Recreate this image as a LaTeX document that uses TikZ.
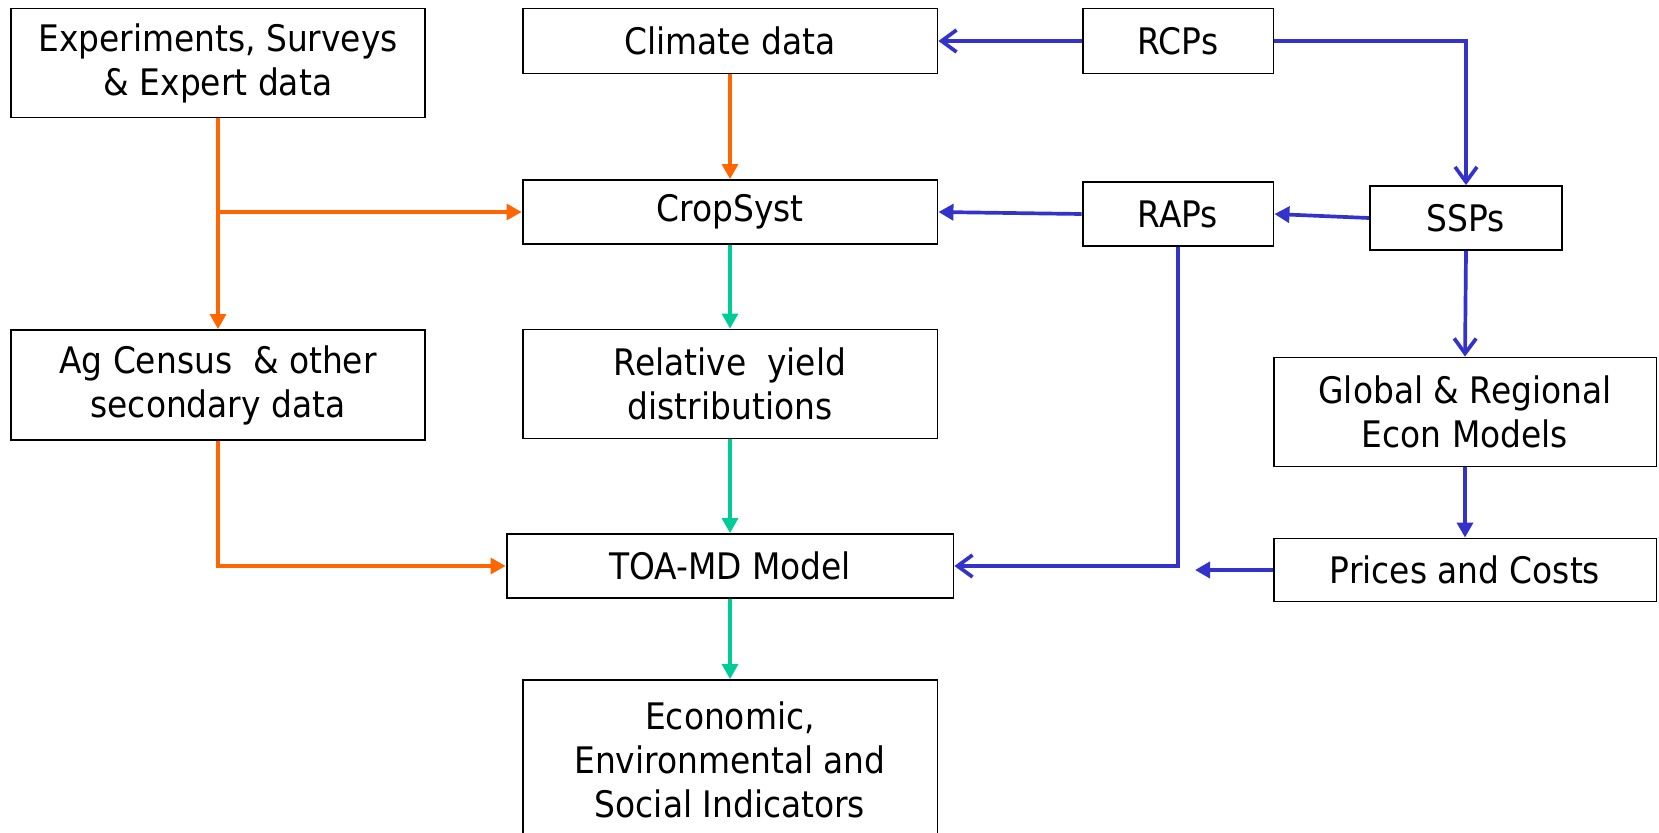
\documentclass[tikz,border=0pt]{standalone}
\usepackage{fontspec}
\setmainfont{DejaVu Sans Condensed}
\usetikzlibrary{arrows.meta,positioning,calc}
\definecolor{dataorange}{RGB}{255,102,0}
\definecolor{cropgreen}{RGB}{0,204,153}
\definecolor{scenblue}{RGB}{51,51,204}

\begin{document}
\begin{tikzpicture}[x=0.02cm, y=-0.02cm,
  blk/.style={draw, line width=1.1pt, align=center, inner sep=2pt, font=\fontsize{20.8}{25}\selectfont},
  orarr/.style={-{Triangle[length=0.3cm, width=0.32cm]}, line width=1.8pt, dataorange},
  grarr/.style={-{Triangle[length=0.3cm, width=0.32cm]}, line width=1.8pt, cropgreen},
  blarr/.style={-{Triangle[length=0.3cm, width=0.32cm]}, line width=2.1pt, scenblue},
  blopen/.style={-{Straight Barb[length=0.3cm, width=0.44cm]}, line width=2.1pt, scenblue}]
  \useasboundingbox (0,0) rectangle (1659,832);
  % left column
  \node[blk, minimum width=8.3cm, minimum height=2.18cm] (exp) at (218,63) {Experiments, Surveys\\ \& Expert data};
  \node[blk, minimum width=8.3cm, minimum height=2.2cm] (agc) at (218,385) {Ag Census~ \& other\\ secondary data};
  % middle column
  \node[blk, minimum width=8.3cm, minimum height=1.3cm] (clim) at (730,41) {Climate data};
  \node[blk, minimum width=8.3cm, minimum height=1.28cm] (crop) at (730,212) {CropSyst};
  \node[blk, minimum width=8.3cm, minimum height=2.18cm] (rel) at (730,384) {Relative~ yield\\ distributions};
  \node[blk, minimum width=8.94cm, minimum height=1.28cm] (toa) at (730,566) {TOA-MD Model};
  \node[blk, minimum width=8.3cm, minimum height=3.2cm] (ind) at (730,760) {Economic,\\ Environmental and\\ Social Indicators};
  % scenarios
  \node[blk, minimum width=3.82cm, minimum height=1.3cm] (rcp) at (1178,41) {RCPs};
  \node[blk, minimum width=3.82cm, minimum height=1.29cm] (rap) at (1178,214) {RAPs};
  \node[blk, minimum width=3.84cm, minimum height=1.28cm] (ssp) at (1466,218) {SSPs};
  \node[blk, minimum width=7.66cm, minimum height=2.18cm] (glob) at (1465,412) {Global \& Regional\\ Econ Models};
  \node[blk, minimum width=7.66cm, minimum height=1.26cm] (price) at (1465,570) {Prices and Costs};
  \coordinate (pend) at (1195,570);

  \draw[orarr] (exp.south) -- (agc.north);
  \draw[orarr] (exp.south |- crop.west) -- (crop.west);
  \draw[orarr] (clim.south) -- (crop.north);
  \draw[orarr] (agc.south) |- (toa.west);
  \draw[grarr] (crop.south) -- (rel.north);
  \draw[grarr] (rel.south) -- (toa.north);
  \draw[grarr] (toa.south) -- (ind.north);
  \draw[blopen] (rcp.west) -- (clim.east);
  \draw[blopen] (rcp.east) -| (ssp.north);
  \draw[blarr] (rap.west) -- (crop.east);
  \draw[blarr] (ssp.west) -- (rap.east);
  \draw[blopen] (rap.south) |- (toa.east);
  \draw[blopen] (ssp.south) -- (glob.north);
  \draw[blarr] (glob.south) -- (price.north);
  \draw[blarr] (price.west) -- (pend);
\end{tikzpicture}
\end{document}
